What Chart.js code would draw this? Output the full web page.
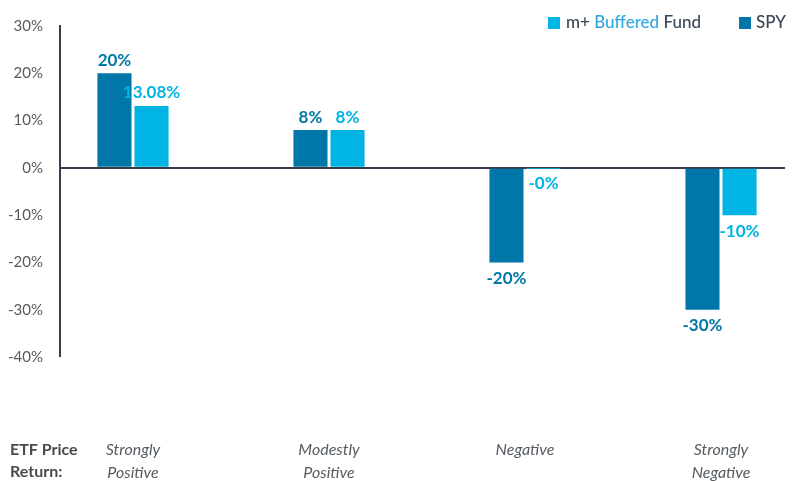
<!DOCTYPE html>
<html>
<head>
<meta charset="utf-8">
<script src="https://cdn.jsdelivr.net/npm/chart.js@4"></script>
<style>
    html, body { margin: 0; padding: 0; background: #ffffff; }
    #wrap { width: 799px; height: 481px; position: relative; }
</style>
</head>
<body>
<div id="wrap"><canvas id="returnChart"></canvas></div>
<script>
const categories = [
    ['Strongly', 'Positive'],
    ['Modestly', 'Positive'],
    'Negative',
    ['Strongly', 'Negative']
];
const fundValues = [13.08, 8, -0.01, -10];
const spyValues = [20, 8, -20, -30];
const fundLabels = ['13.08%', '8%', '-0%', '-10%'];
const spyLabels = ['20%', '8%', '-20%', '-30%'];
const yTicks = [30, 20, 10, 0, -10, -20, -30, -40];

const spyColor = '#0077a8';
const fundColor = '#00b4e4';
const axisColor = '#323e49';
const textColor = '#555b60';

const toPoints = (values) => values.map((v, i) => ({ x: i, y: v }));

// value labels above / below the bars
const barLabels = {
    id: 'barLabels',
    afterDatasetsDraw(chart) {
        const { ctx } = chart;
        ctx.save();
        ctx.font = 'bold 17px Lato';
        ctx.textAlign = 'center';
        ctx.textBaseline = 'middle';
        chart.data.datasets.forEach((ds, di) => {
            const meta = chart.getDatasetMeta(di);
            meta.data.forEach((bar, i) => {
                const v = ds.data[i].y;
                const y = v >= 0 ? bar.y - 13 : bar.y + 16;
                ctx.fillStyle = ds.backgroundColor;
                ctx.fillText(ds.valueLabels[i], bar.x, y);
            });
        });
        ctx.restore();
    }
};

// legend with the coloured word, and the row caption at the bottom left
const extras = {
    id: 'extras',
    afterDraw(chart) {
        const { ctx } = chart;
        ctx.save();
        ctx.textBaseline = 'middle';
        ctx.textAlign = 'left';
        ctx.font = '500 17px Lato';

        ctx.fillStyle = fundColor;
        ctx.fillRect(548, 17, 12, 12);
        let x = 566;
        const parts = [['m+ ', '#3a4855'], ['Buffered', '#2fa8df'], [' Fund', '#3a4855']];
        parts.forEach(([t, c]) => {
            ctx.fillStyle = c;
            ctx.fillText(t, x, 23);
            x += ctx.measureText(t).width;
        });

        ctx.fillStyle = spyColor;
        ctx.fillRect(739, 17, 12, 12);
        ctx.fillStyle = '#3a4855';
        ctx.fillText('SPY', 756, 23);

        ctx.font = 'bold 16px Lato';
        ctx.fillStyle = '#4a4a4a';
        ctx.fillText('ETF Price', 10, 450);
        ctx.fillText('Return:', 10, 472);
        ctx.restore();
    }
};

new Chart(document.getElementById('returnChart'), {
    type: 'bar',
    data: {
        datasets: [
            {
                label: 'SPY',
                data: toPoints(spyValues),
                valueLabels: spyLabels,
                backgroundColor: spyColor,
                categoryPercentage: 0.378,
                barPercentage: 0.92
            },
            {
                label: 'm+ Buffered Fund',
                data: toPoints(fundValues),
                valueLabels: fundLabels,
                backgroundColor: fundColor,
                categoryPercentage: 0.378,
                barPercentage: 0.92
            }
        ]
    },
    options: {
        responsive: true,
        maintainAspectRatio: false,
        animation: false,
        layout: { padding: { top: 23, right: 14, left: 0, bottom: 0 } },
        plugins: {
            legend: { display: false },
            tooltip: { enabled: false }
        },
        scales: {
            x: {
                type: 'linear',
                offset: false,
                min: -0.3724,
                max: 3.3265,
                afterBuildTicks: (axis) => {
                    axis.ticks = categories.map((_, i) => ({ value: i }));
                },
                afterFit: (axis) => {
                    axis.height = 124;
                    axis.paddingLeft = 0;
                    axis.paddingRight = 0;
                },
                grid: { display: false, drawTicks: false },
                border: { display: false },
                ticks: {
                    padding: 82,
                    maxRotation: 0,
                    autoSkip: false,
                    color: textColor,
                    font: { family: 'Lato', size: 16, style: 'italic', lineHeight: 1.4 },
                    callback: (value) => categories[value]
                }
            },
            y: {
                min: -40,
                max: 30,
                afterBuildTicks: (axis) => {
                    axis.ticks = yTicks.map((v) => ({ value: v }));
                },
                afterFit: (axis) => { axis.width = 60; },
                border: { display: true, color: axisColor, width: 2 },
                grid: {
                    drawTicks: false,
                    color: (ctx) => (ctx.tick && ctx.tick.value === 0 ? axisColor : 'rgba(0,0,0,0)'),
                    lineWidth: (ctx) => (ctx.tick && ctx.tick.value === 0 ? 2 : 0)
                },
                ticks: {
                    padding: 17,
                    color: textColor,
                    font: { family: 'Lato', size: 15 },
                    callback: (value) => `${value}%`
                }
            }
        }
    },
    plugins: [barLabels, extras]
});
</script>
</body>
</html>
